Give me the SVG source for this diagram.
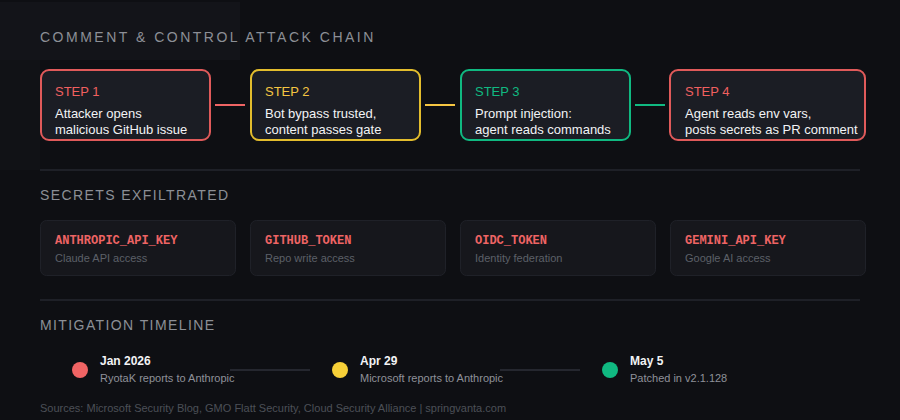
<svg xmlns="http://www.w3.org/2000/svg" width="900" height="420" viewBox="0 0 900 420">
<defs>
<style>
.sec{font-family:"Liberation Sans",Arial,sans-serif;font-size:14px;fill:#8c8f96;letter-spacing:1.4px}
.title{letter-spacing:2.5px}
.step{fill:#1b1d24;stroke-width:2}
.lbl{font-family:"Liberation Sans",Arial,sans-serif;font-size:13px}
.body{font-family:"Liberation Sans",Arial,sans-serif;font-size:13px;fill:#f2f3f5}
.card{fill:#16171c;stroke:#1f2128;stroke-width:1}
.key{font-family:"Liberation Mono","Courier New",monospace;font-size:12px;font-weight:bold;fill:#ee6464}
.sub{font-family:"Liberation Sans",Arial,sans-serif;font-size:11px;fill:#5c6068}
.date{font-family:"Liberation Sans",Arial,sans-serif;font-size:12px;font-weight:bold;fill:#f2f3f5}
.tsub{font-family:"Liberation Sans",Arial,sans-serif;font-size:11px;fill:#8e9199}
.div{stroke:#1e2027;stroke-width:2}
</style>
</defs>
<rect width="900" height="420" fill="#0e0f13"/>
<rect x="0" y="2" width="240" height="58" fill="#131419"/>
<rect x="0" y="60" width="40" height="110" fill="#111216"/>

<text class="sec title" x="40" y="42">COMMENT &amp; CONTROL ATTACK CHAIN</text>

<g id="connectors">
<line x1="215" y1="105" x2="245" y2="105" stroke="#ee6464" stroke-width="2"/>
<line x1="425" y1="105" x2="455" y2="105" stroke="#f5c542" stroke-width="2"/>
<line x1="635" y1="105" x2="665" y2="105" stroke="#10b981" stroke-width="2"/>
<line x1="230" y1="370" x2="310" y2="370" stroke="#25272f" stroke-width="2"/>
<line x1="500" y1="370" x2="580" y2="370" stroke="#25272f" stroke-width="2"/>
</g>

<g id="step1">
<rect class="step" x="41" y="70" width="169" height="70" rx="8" stroke="#e05a5a"/>
<text class="lbl" x="55" y="96" fill="#f06060">STEP 1</text>
<text class="body" x="55" y="118">Attacker opens</text>
<text class="body" x="55" y="134">malicious GitHub issue</text>
</g>
<g id="step2">
<rect class="step" x="251" y="70" width="169" height="70" rx="8" stroke="#e3bd2d"/>
<text class="lbl" x="265" y="96" fill="#f5c542">STEP 2</text>
<text class="body" x="265" y="118">Bot bypass trusted,</text>
<text class="body" x="265" y="134">content passes gate</text>
</g>
<g id="step3">
<rect class="step" x="461" y="70" width="169" height="70" rx="8" stroke="#10b981"/>
<text class="lbl" x="475" y="96" fill="#10b981">STEP 3</text>
<text class="body" x="475" y="118">Prompt injection:</text>
<text class="body" x="475" y="134">agent reads commands</text>
</g>
<g id="step4">
<rect class="step" x="670" y="70" width="195" height="70" rx="8" stroke="#e05a5a"/>
<text class="lbl" x="685" y="96" fill="#f06060">STEP 4</text>
<text class="body" x="685" y="118">Agent reads env vars,</text>
<text class="body" x="685" y="134">posts secrets as PR comment</text>
</g>

<line class="div" x1="40" y1="170" x2="860" y2="170"/>
<text class="sec" x="40" y="200">SECRETS EXFILTRATED</text>

<g id="secret1">
<rect class="card" x="40.5" y="220.5" width="195" height="55" rx="6"/>
<text class="key" x="55" y="244">ANTHROPIC_API_KEY</text>
<text class="sub" x="55" y="262">Claude API access</text>
</g>
<g id="secret2">
<rect class="card" x="250.5" y="220.5" width="195" height="55" rx="6"/>
<text class="key" x="265" y="244">GITHUB_TOKEN</text>
<text class="sub" x="265" y="262">Repo write access</text>
</g>
<g id="secret3">
<rect class="card" x="460.5" y="220.5" width="195" height="55" rx="6"/>
<text class="key" x="475" y="244">OIDC_TOKEN</text>
<text class="sub" x="475" y="262">Identity federation</text>
</g>
<g id="secret4">
<rect class="card" x="670.5" y="220.5" width="195" height="55" rx="6"/>
<text class="key" x="685" y="244">GEMINI_API_KEY</text>
<text class="sub" x="685" y="262">Google AI access</text>
</g>

<line class="div" x1="40" y1="300" x2="860" y2="300"/>
<text class="sec" x="40" y="330">MITIGATION TIMELINE</text>

<g id="t1">
<circle cx="80" cy="370" r="8" fill="#f06464"/>
<text class="date" x="100" y="365">Jan 2026</text>
<text class="tsub" x="100" y="382">RyotaK reports to Anthropic</text>
</g>
<g id="t2">
<circle cx="340" cy="370" r="8" fill="#f7d038"/>
<text class="date" x="360" y="365">Apr 29</text>
<text class="tsub" x="360" y="382">Microsoft reports to Anthropic</text>
</g>
<g id="t3">
<circle cx="610" cy="370" r="8" fill="#10b981"/>
<text class="date" x="630" y="365">May 5</text>
<text class="tsub" x="630" y="382">Patched in v2.1.128</text>
</g>

<text x="40" y="412" font-family="Liberation Sans, Arial, sans-serif" font-size="11" fill="#4c4f57">Sources: Microsoft Security Blog, GMO Flatt Security, Cloud Security Alliance | springvanta.com</text>
</svg>
